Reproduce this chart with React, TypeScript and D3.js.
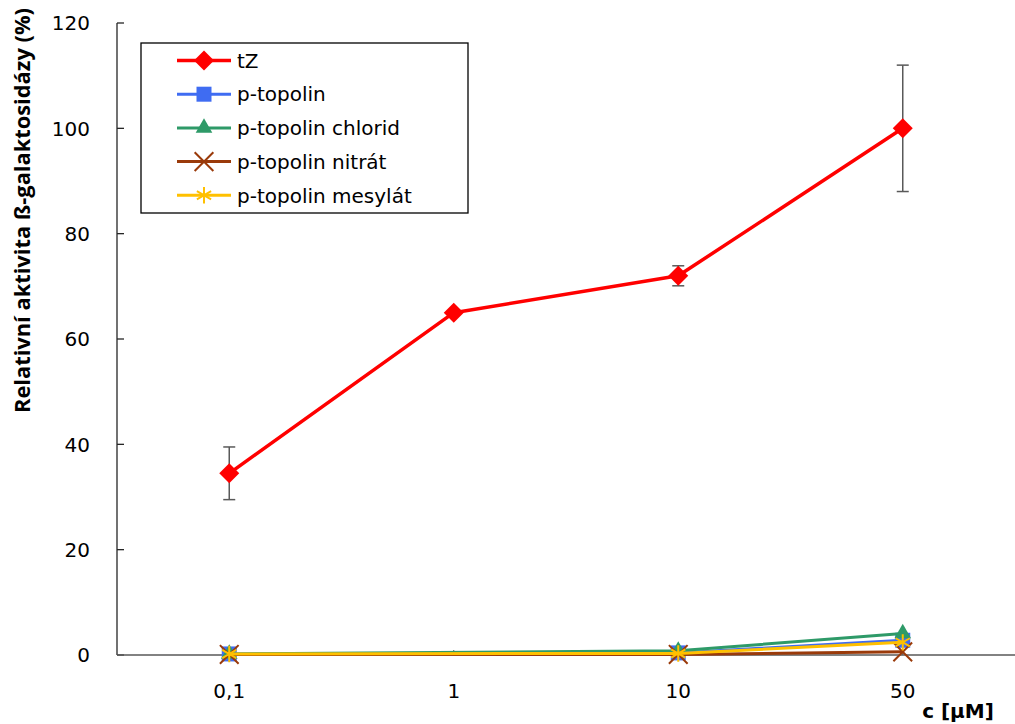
import React from "react";
import * as d3 from "d3";

const categories = ["0,1", "1", "10", "50"];
const tZ = [34.5, 65, 72, 100];
const tZErr = [5, 0, 1.9, 12];
const pTopolin = [0.2, null, 0.4, 2.8];
const pChlorid = [0.2, null, 0.8, 4.1];
const pNitrat = [0.1, null, 0.1, 0.6];
const pMesylat = [0.2, null, 0.3, 2.4];
const yTicks = [0, 20, 40, 60, 80, 100, 120];

const W = 1015;
const H = 724;
const left = 117;
const top = 23;
const bottom = 655;

type Series = {
  name: string;
  values: (number | null)[];
  color: string;
  marker: "diamond" | "square" | "triangle" | "x" | "asterisk";
  width: number;
};

const series: Series[] = [
  { name: "tZ", values: tZ, color: "#ff0000", marker: "diamond", width: 3.5 },
  { name: "p-topolin", values: pTopolin, color: "#3f6cf2", marker: "square", width: 3 },
  { name: "p-topolin chlorid", values: pChlorid, color: "#2e9a68", marker: "triangle", width: 3 },
  { name: "p-topolin nitrát", values: pNitrat, color: "#9a3a0a", marker: "x", width: 3 },
  { name: "p-topolin mesylát", values: pMesylat, color: "#ffc000", marker: "asterisk", width: 3 },
];

function Marker({ kind, color, x, y }: { kind: Series["marker"]; color: string; x: number; y: number }) {
  if (kind === "diamond") {
    const p = d3.symbol(d3.symbolSquare, 200)()!;
    return <path d={p} fill={color} transform={`translate(${x},${y}) rotate(45)`} />;
  }
  if (kind === "square") {
    const p = d3.symbol(d3.symbolSquare, 225)()!;
    return <path d={p} fill={color} transform={`translate(${x},${y})`} />;
  }
  if (kind === "triangle") {
    const p = d3.symbol(d3.symbolTriangle, 120)()!;
    return <path d={p} fill={color} transform={`translate(${x},${y})`} />;
  }
  if (kind === "x") {
    const p = d3.symbol(d3.symbolX, 230)()!;
    return <path d={p} fill="none" stroke={color} strokeWidth={2} transform={`translate(${x},${y})`} />;
  }
  const p = d3.symbol(d3.symbolAsterisk, 190)()!;
  return <path d={p} fill="none" stroke={color} strokeWidth={2} transform={`translate(${x},${y})`} />;
}

export default function App() {
  const x = d3.scalePoint<string>().domain(categories).range([left, W]).padding(0.5);
  const y = d3.scaleLinear().domain([0, 120]).range([bottom, top]);

  const line = d3
    .line<{ c: string; v: number }>()
    .x((d) => x(d.c)!)
    .y((d) => y(d.v));

  const pts = (s: Series) =>
    s.values
      .map((v, i) => ({ c: categories[i], v }))
      .filter((d) => d.v !== null) as { c: string; v: number }[];

  const font = "'DejaVu Sans', sans-serif";

  return (
    <svg
      width={W}
      height={H}
      style={{ position: "absolute", left: 0, top: 0, background: "#fff" }}
      fontFamily={font}
    >
      {/* y axis */}
      <line x1={left} x2={left} y1={top} y2={bottom} stroke="#262626" strokeWidth={1.3} />
      {yTicks.map((t) => (
        <g key={t}>
          <line x1={left} x2={left + 7} y1={y(t)} y2={y(t)} stroke="#262626" strokeWidth={1.3} />
          <text x={90} y={y(t)} dy="0.36em" textAnchor="end" fontSize={20} fill="#000">
            {t}
          </text>
        </g>
      ))}
      <text
        transform={`translate(30,210.5) rotate(-90)`}
        textAnchor="middle"
        fontFamily="'Open Sans', sans-serif"
        fontWeight="bold"
        fontSize={21}
        textLength={405}
        lengthAdjust="spacingAndGlyphs"
      >
        Relativní aktivita ß-galaktosidázy (%)
      </text>

      {/* x axis */}
      <line x1={left} x2={W} y1={bottom} y2={bottom} stroke="#595959" strokeWidth={1.5} />
      {categories.map((c) => (
        <g key={c}>
          <line x1={x(c)} x2={x(c)} y1={bottom} y2={bottom - 5} stroke="#595959" strokeWidth={1} />
          <text x={x(c)} y={698} textAnchor="middle" fontSize={20}>
            {c}
          </text>
        </g>
      ))}
      <text x={958} y={718} textAnchor="middle" fontWeight="bold" fontSize={20}>
        c [µM]
      </text>

      {/* error bars */}
      {tZ.map((v, i) =>
        tZErr[i] > 0 ? (
          <g key={i} stroke="#595959" strokeWidth={1.5}>
            <line x1={x(categories[i])} x2={x(categories[i])} y1={y(v + tZErr[i])} y2={y(v - tZErr[i])} />
            <line x1={x(categories[i])! - 6} x2={x(categories[i])! + 6} y1={y(v + tZErr[i])} y2={y(v + tZErr[i])} />
            <line x1={x(categories[i])! - 6} x2={x(categories[i])! + 6} y1={y(v - tZErr[i])} y2={y(v - tZErr[i])} />
          </g>
        ) : null
      )}

      {/* lines and markers */}
      {series.map((s) => (
        <g key={s.name}>
          <path d={line(pts(s))!} fill="none" stroke={s.color} strokeWidth={s.width} strokeLinejoin="round" />
          {pts(s).map((d) => (
            <Marker key={d.c} kind={s.marker} color={s.color} x={x(d.c)!} y={y(d.v)} />
          ))}
        </g>
      ))}

      {/* legend */}
      <rect x={141} y={43} width={327} height={170} fill="#fff" stroke="#000" strokeWidth={1.3} />
      {series.map((s, i) => {
        const ly = 60.5 + i * 33.7;
        return (
          <g key={s.name}>
            <line x1={177} x2={231} y1={ly} y2={ly} stroke={s.color} strokeWidth={s.width} />
            <Marker kind={s.marker} color={s.color} x={204} y={ly} />
            <text x={237} y={ly} dy="0.36em" fontSize={20}>
              {s.name}
            </text>
          </g>
        );
      })}
    </svg>
  );
}
